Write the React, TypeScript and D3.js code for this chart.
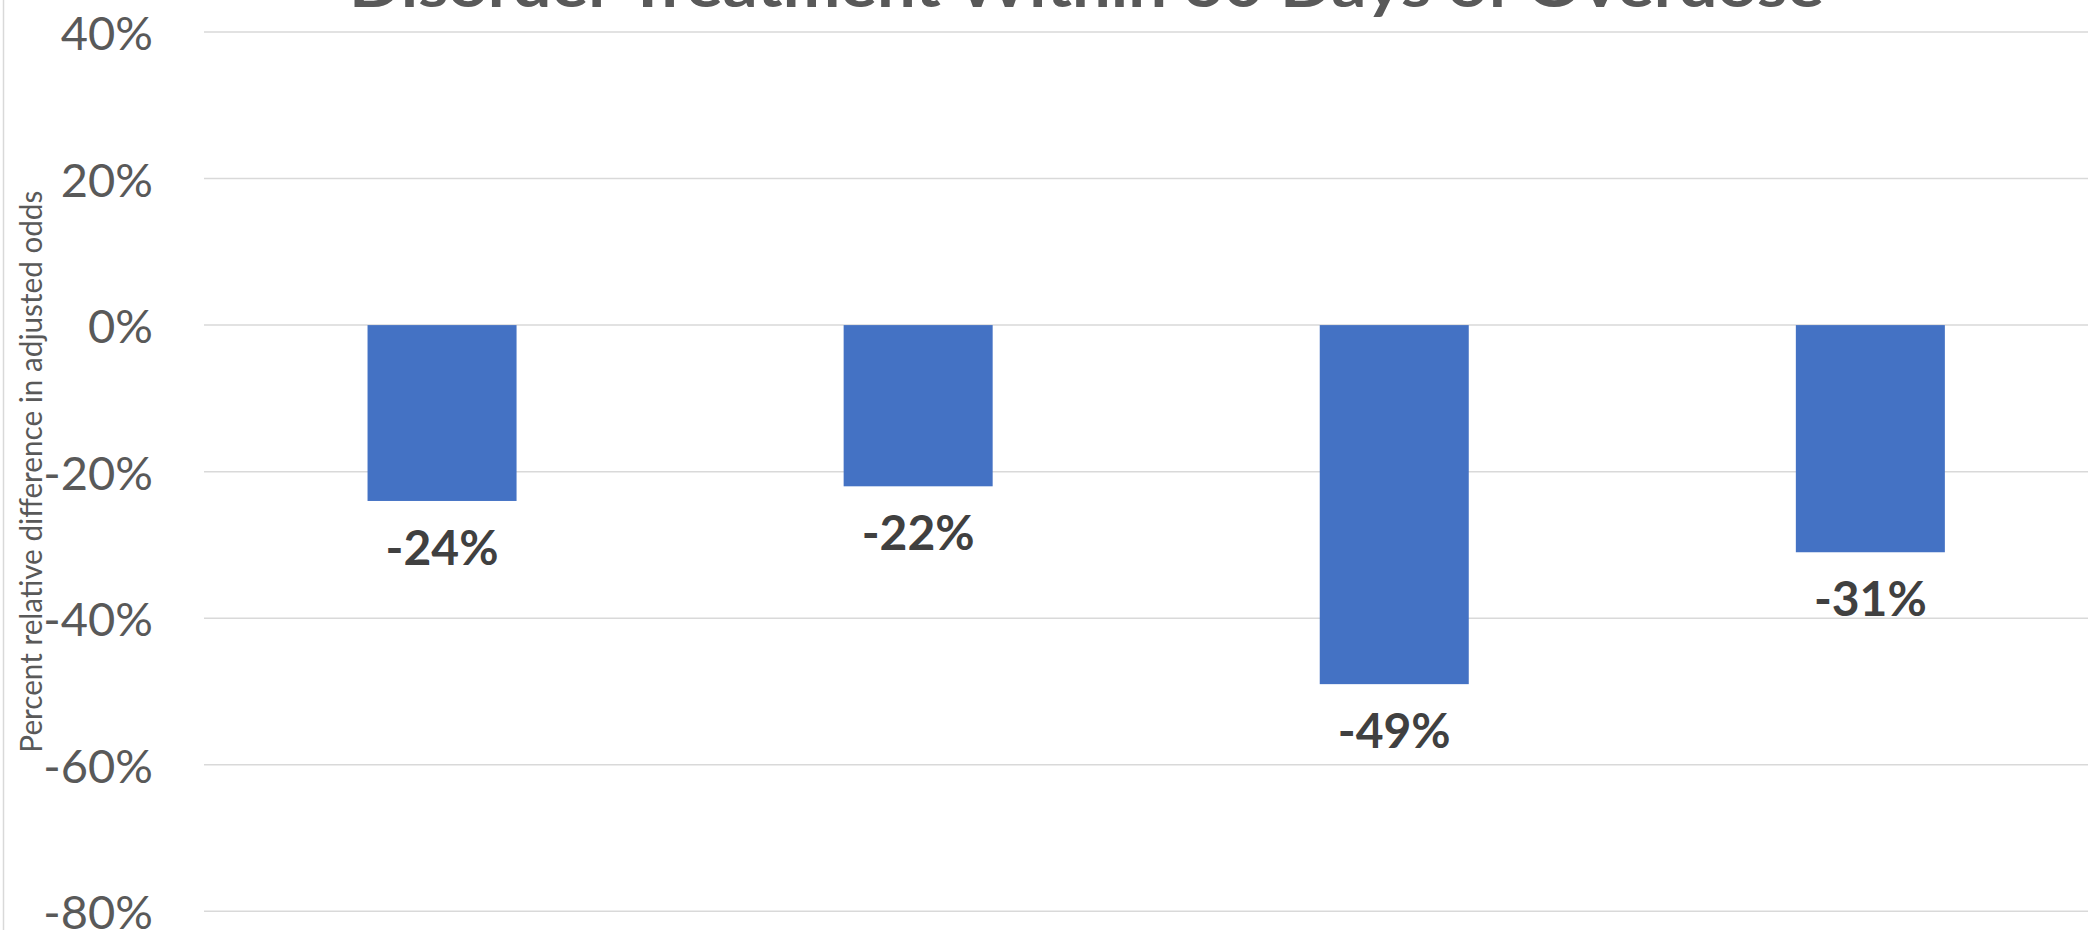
import React from "react";
import * as d3 from "d3";

const categories = ["Group 1", "Group 2", "Group 3", "Group 4"];
const values = [-0.24, -0.22, -0.49, -0.31];
const yTicks = [0.4, 0.2, 0, -0.2, -0.4, -0.6, -0.8];
const titleText = "Disorder Treatment Within 30 Days of Overdose";
const yAxisTitle = "Percent relative difference in adjusted odds";

const W = 2088;
const H = 930;

export default function App() {
  const y = d3.scaleLinear().domain([-0.8, 0.4]).range([911.3, 32]);
  const x = d3
    .scaleBand<string>()
    .domain(categories)
    .range([204, 2108.4])
    .paddingInner(0.687)
    .paddingOuter(0.3435);
  const pct = d3.format(".0%");
  const fmt = (v: number) => pct(v).replace("\u2212", "-");
  const font = "Lato, 'Open Sans', sans-serif";

  return (
    <svg
      width={W}
      height={H}
      style={{ position: "absolute", left: 0, top: 0, display: "block", background: "#fff" }}
    >
      <line x1={3.5} x2={3.5} y1={0} y2={H} stroke="#d9d9d9" strokeWidth={1.5} />
      <text
        x={349}
        y={7}
        fontFamily={font}
        fontWeight={700}
        fontSize={60}
        fill="#595959"
        textLength={1475}
        lengthAdjust="spacingAndGlyphs"
      >
        {titleText}
      </text>
      {yTicks.map((t) => (
        <g key={t}>
          <line x1={204} x2={W} y1={y(t)} y2={y(t)} stroke="#d9d9d9" strokeWidth={1.5} />
          <text
            x={153}
            y={y(t)}
            textAnchor="end"
            dominantBaseline="central"
            fontFamily={font}
            fontSize={47}
            fill="#595959"
          >
            {fmt(t)}
          </text>
        </g>
      ))}
      <text
        transform={`translate(42, ${(y(0.4) + y(-0.8)) / 2}) rotate(-90)`}
        textAnchor="middle"
        fontFamily={font}
        fontSize={30}
        fill="#595959"
        textLength={562}
        lengthAdjust="spacingAndGlyphs"
      >
        {yAxisTitle}
      </text>
      {categories.map((c, i) => {
        const v = values[i];
        const x0 = x(c) as number;
        const bw = x.bandwidth();
        return (
          <g key={c}>
            <rect
              x={x0}
              y={y(Math.max(0, v))}
              width={bw}
              height={Math.abs(y(v) - y(0))}
              fill="#4472c4"
            />
            <text
              x={x0 + bw / 2}
              y={y(v) + 64}
              textAnchor="middle"
              fontFamily={font}
              fontWeight={700}
              fontSize={48}
              fill="#404040"
            >
              {fmt(v)}
            </text>
          </g>
        );
      })}
    </svg>
  );
}
